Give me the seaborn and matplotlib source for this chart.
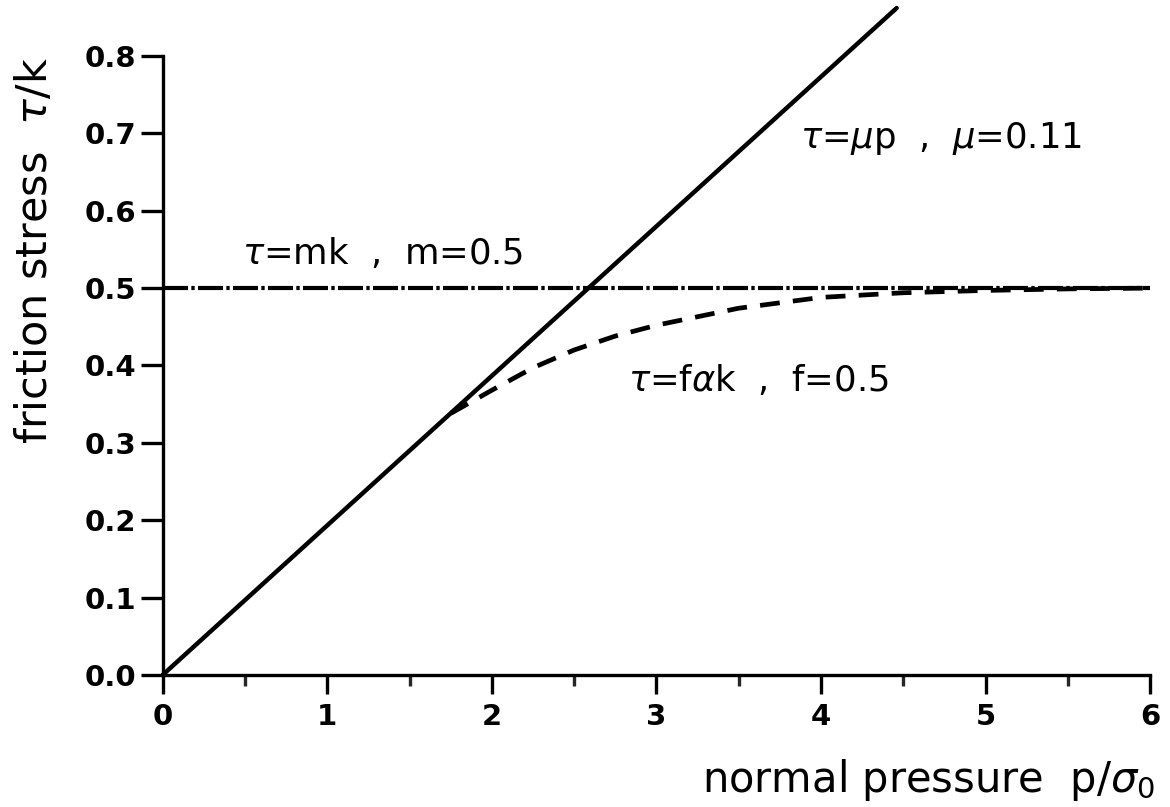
import matplotlib
matplotlib.use("Agg")
import matplotlib.pyplot as plt
import seaborn as sns
from matplotlib.ticker import MultipleLocator

# Data
coulomb_x = [0.0, 4.46]
coulomb_y = [0.0, 0.862]
shear_x = [0.0, 6.0]
shear_y = [0.5, 0.5]
mixed_x = [1.75, 2.0, 2.25, 2.5, 2.75, 3.0, 3.5, 4.0, 4.5, 5.0, 5.5, 6.0]
mixed_y = [0.338, 0.368, 0.397, 0.42, 0.438, 0.452, 0.474, 0.488, 0.494, 0.497, 0.499, 0.5]
x_ticks = [0, 1, 2, 3, 4, 5, 6]
y_ticks = [0.0, 0.1, 0.2, 0.3, 0.4, 0.5, 0.6, 0.7, 0.8]

sns.set_theme(style="ticks")
plt.rcParams['font.family'] = ['DejaVu Sans']
plt.rcParams['text.color'] = 'black'
plt.rcParams['axes.labelcolor'] = 'black'

fig = plt.figure(figsize=(11.7, 8.07), dpi=100)
ax = fig.add_axes([0.139, 0.1636, 0.844, 0.767])

sns.lineplot(x=coulomb_x, y=coulomb_y, ax=ax, color="black", lw=3.2, clip_on=False)
sns.lineplot(x=shear_x, y=shear_y, ax=ax, color="black", lw=3.0, clip_on=False)
ax.lines[-1].set_dashes([6, 0.8, 0.8, 0.8])
sns.lineplot(x=mixed_x, y=mixed_y, ax=ax, color="black", lw=3.4)
ax.lines[-1].set_dashes([4.2, 2.8])

ax.set_xlim(0, 6)
ax.set_ylim(0, 0.8)
ax.set_xticks(x_ticks)
ax.set_yticks(y_ticks)
ax.set_yticklabels([f"{v:.1f}" for v in y_ticks])
ax.xaxis.set_minor_locator(MultipleLocator(0.5))
for s in ["top", "right"]:
    ax.spines[s].set_visible(False)
for s in ["left", "bottom"]:
    ax.spines[s].set_linewidth(2.4)
    ax.spines[s].set_color("black")
ax.tick_params(axis="y", which="major", length=16, width=2.4, direction="out",
               labelsize=21, pad=3, colors="black")
ax.tick_params(axis="x", which="major", length=14, width=2.4, direction="out",
               labelsize=21, pad=6, colors="black")
ax.tick_params(axis="x", which="minor", length=8, width=2.4, direction="out")
for lab in ax.get_xticklabels() + ax.get_yticklabels():
    lab.set_fontweight("bold")

fig.text(35 / 1170, 1 - 57 / 807, "friction stress  $\\tau$/k", fontsize=31,
         rotation=90, ha="center", va="top")
fig.text(1155 / 1170, 1 - 780 / 807, "normal pressure  p/$\\sigma_0$", fontsize=30,
         ha="right", va="center")

ax.text(3.87, 0.694, "$\\tau$=$\\mu$p  ,  $\\mu$=0.11", fontsize=25.5, va="center")
ax.text(0.48, 0.545, "$\\tau$=mk  ,  m=0.5", fontsize=25.5, va="center")
ax.text(2.83, 0.38, "$\\tau$=f$\\alpha$k  ,  f=0.5", fontsize=25.5, va="center")

fig.savefig("out.png", dpi=100, facecolor="white")
